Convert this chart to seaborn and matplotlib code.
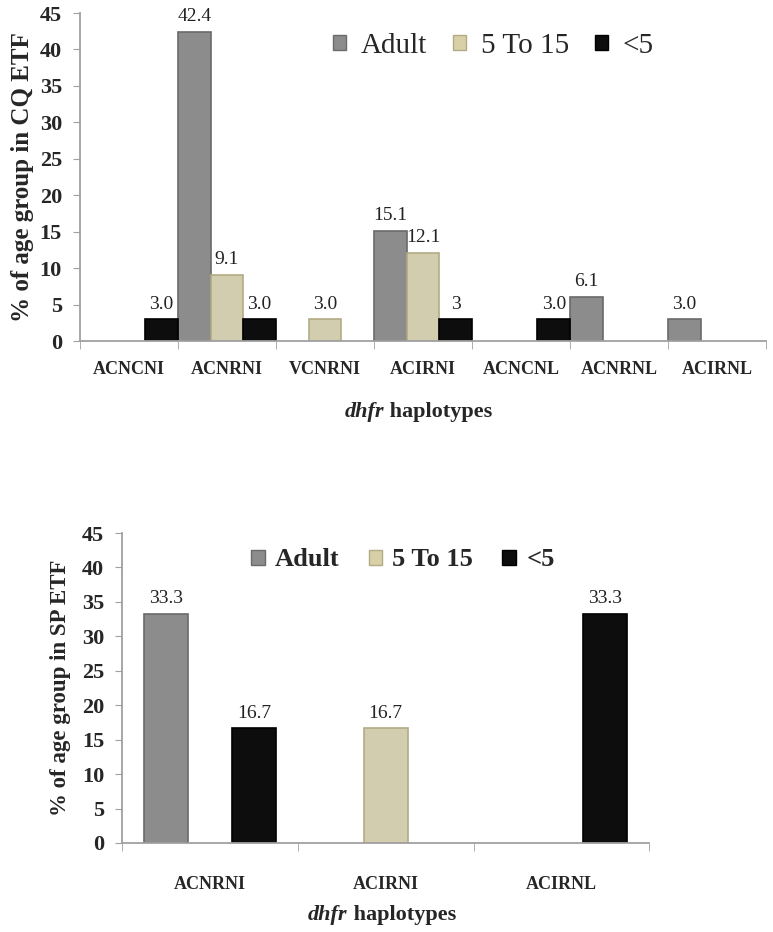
import numpy as np
import pandas as pd
import seaborn as sns
import matplotlib.pyplot as plt
from matplotlib.patches import Patch

# dados - grafico de cima (CQ ETF)
cq_haplotypes = ['ACNCNI', 'ACNRNI', 'VCNRNI', 'ACIRNI', 'ACNCNL', 'ACNRNL', 'ACIRNL']
cq_adult = [np.nan, 42.4, np.nan, 15.1, np.nan, 6.1, 3.0]
cq_5to15 = [np.nan, 9.1, 3.0, 12.1, np.nan, np.nan, np.nan]
cq_under5 = [3.0, 3.0, np.nan, 3.0, 3.0, np.nan, np.nan]
cq_adult_txt = ['', '42.4', '', '15.1', '', '6.1', '3.0']
cq_5to15_txt = ['', '9.1', '3.0', '12.1', '', '', '']
cq_under5_txt = ['3.0', '3.0', '', '3', '3.0', '', '']

# dados - grafico de baixo (SP ETF)
sp_haplotypes = ['ACNRNI', 'ACIRNI', 'ACIRNL']
sp_adult = [33.3, np.nan, np.nan]
sp_5to15 = [np.nan, 16.7, np.nan]
sp_under5 = [16.7, np.nan, 33.3]
sp_adult_txt = ['33.3', '', '']
sp_5to15_txt = ['', '16.7', '']
sp_under5_txt = ['16.7', '', '33.3']

groups = ['Adult', '5 To 15', '<5']
cores = {'Adult': '#8c8c8c', '5 To 15': '#d8d1a8', '<5': '#0d0d0d'}
bordas = {'Adult': '#6a6a6a', '5 To 15': '#b3ab84', '<5': '#000000'}

sns.set_style('white')
plt.rcParams['font.family'] = ['Liberation Serif', 'DejaVu Serif']


def long_form(cats, series):
    rows = []
    for g, vals in zip(groups, series):
        for c, v in zip(cats, vals):
            if not np.isnan(v):
                rows.append({'haplotype': c, 'group': g, 'pct': v})
    return pd.DataFrame(rows)


def draw(ax, cats, series, texts, width, ylabel, ysize, tickpad, labelpad):
    df = long_form(cats, series)
    sns.barplot(data=df, x='haplotype', y='pct', hue='group', order=cats,
                hue_order=groups, palette=cores, width=width, gap=0,
                errorbar=None, legend=False, ax=ax, linewidth=1.2)
    step = width / len(groups)
    for p in ax.patches:
        xc = p.get_x() + p.get_width() / 2
        ci = int(round(xc))
        hi = int(round((xc - ci) / step)) + 1
        p.set_edgecolor(bordas[groups[hi]])
        txt = texts[hi][ci]
        if txt:
            ax.text(xc, p.get_height() + 0.9, txt, ha='center', va='bottom',
                    fontsize=14, color='#222222')
    ax.set_xlim(-0.5, len(cats) - 0.5)
    ax.set_ylim(0, 45)
    ax.set_yticks(range(0, 50, 5))
    ax.set_xticks(range(len(cats)))
    ax.set_xticklabels(cats, fontweight='bold', fontsize=13)
    ax.set_xticks(np.arange(-0.5, len(cats), 1), minor=True)
    ax.tick_params(axis='x', which='major', length=0, pad=tickpad)
    ax.tick_params(axis='x', which='minor', length=6, color='#a0a0a0',
                   direction='out', bottom=True)
    ax.tick_params(axis='y', length=5, color='#a0a0a0', direction='out',
                   left=True, labelsize=16, pad=8)
    for t in ax.get_yticklabels():
        t.set_fontweight('bold')
    for s in ['top', 'right']:
        ax.spines[s].set_visible(False)
    for s in ['left', 'bottom']:
        ax.spines[s].set_color('#a0a0a0')
        ax.spines[s].set_linewidth(1.3)
    ax.set_xlabel('')
    ax.set_ylabel(ylabel, fontweight='bold', fontsize=ysize, labelpad=labelpad)


fig = plt.figure(figsize=(7.73, 9.32), dpi=100)
ax1 = fig.add_axes([0.1035, 0.634, 0.8875, 0.352])
ax2 = fig.add_axes([0.158, 0.0955, 0.682, 0.3326])

draw(ax1, cq_haplotypes, [cq_adult, cq_5to15, cq_under5],
     [cq_adult_txt, cq_5to15_txt, cq_under5_txt], 1.0,
     '% of age group in CQ ETF', 18, 14, 4)
draw(ax2, sp_haplotypes, [sp_adult, sp_5to15, sp_under5],
     [sp_adult_txt, sp_5to15_txt, sp_under5_txt], 0.75,
     '% of age group in SP ETF', 16.5, 24, 8)

handles = [Patch(facecolor=cores[g], edgecolor=bordas[g], label=g) for g in groups]
ax1.legend(handles=handles, ncol=3, frameon=False, loc='center left',
           bbox_to_anchor=(0.33, 0.90), fontsize=21, handlelength=0.45,
           handleheight=0.45, handletextpad=0.5, columnspacing=0.9)
ax2.legend(handles=handles, ncol=3, frameon=False, loc='center left',
           bbox_to_anchor=(0.2, 0.913), prop={'weight': 'bold', 'size': 19},
           handlelength=0.5, handleheight=0.5, handletextpad=0.4, columnspacing=1.1)

# rotulo do eixo x com dhfr em italico
for ax, x0, y0 in [(ax1, 0.386, -0.216), (ax2, 0.353, -0.232)]:
    t = ax.text(x0, y0, 'dhfr', transform=ax.transAxes, fontsize=16,
                fontweight='bold', fontstyle='italic', ha='left', va='center')
    ax.annotate(' haplotypes', xy=(1, 0), xycoords=t, va='bottom', ha='left',
                fontsize=16, fontweight='bold')

fig.savefig('out.png', dpi=100)
